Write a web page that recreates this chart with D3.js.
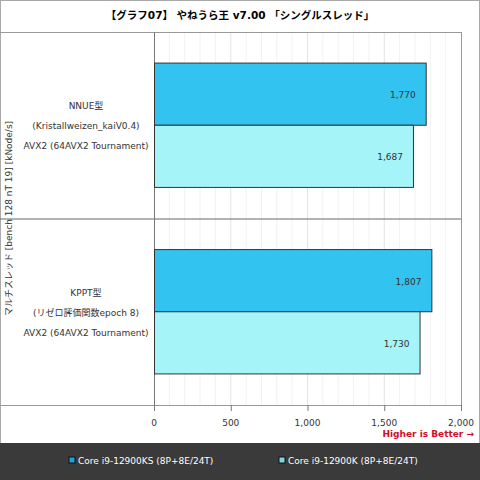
<!DOCTYPE html><html><head><meta charset="utf-8"><script src="https://cdn.jsdelivr.net/npm/d3@7"></script>
<style>body{margin:0;background:#fff}svg{font-family:"DejaVu Sans","Noto Sans CJK JP",sans-serif}</style></head><body><svg id="c" width="480" height="480"></svg><script>
const categories=[["NNUE型","(Kristallweizen_kaiV0.4)","AVX2 (64AVX2 Tournament)"],["KPPT型","(リゼロ評価関数epoch 8)","AVX2 (64AVX2 Tournament)"]];
const seriesNames=["Core i9-12900KS (8P+8E/24T)","Core i9-12900K (8P+8E/24T)"];
const values=[[1770,1807],[1687,1730]];
const ticks=[0,500,1000,1500,2000];
const colors=["#33c3f0","#a5f5f8"],legendColors=["#1fa3d6","#7fd9dc"];
const FS=9;
const svg=d3.select("#c");
svg.append("rect").attr("x",0.5).attr("y",0.5).attr("width",479).attr("height",479).attr("fill","#fff").attr("stroke","#aaa");
svg.append("text").attr("x",240).attr("y",19).attr("text-anchor","middle").attr("font-size",10.5).attr("font-weight","bold").text("【グラフ07】 やねうら王 v7.00 「シングルスレッド」");
const L=154,R=461,T=32,B=405;
const x=d3.scaleLinear().domain([0,2000]).range([L,R]);
const y0=d3.scaleBand().domain([0,1]).range([T,B]);
const y1=d3.scaleBand().domain([0,1]).range([0,y0.bandwidth()]).paddingOuter(0.5);
const g=svg.append("g");
g.selectAll(".gr").data(d3.range(100,2000,100)).join("line").attr("x1",d=>x(d)).attr("x2",d=>x(d)).attr("y1",T).attr("y2",B).attr("stroke",d=>d%500?"#f2f2f2":"#e4e4e4");
g.append("line").attr("x1",0).attr("x2",R).attr("y1",T+0.5).attr("y2",T+0.5).attr("stroke","#999");
g.append("line").attr("x1",0).attr("x2",R).attr("y1",B+0.5).attr("y2",B+0.5).attr("stroke","#999");
g.append("line").attr("x1",0).attr("x2",R).attr("y1",y0(1)+0.5).attr("y2",y0(1)+0.5).attr("stroke","#666");
g.append("line").attr("x1",L+0.5).attr("x2",L+0.5).attr("y1",T).attr("y2",B+6).attr("stroke","#777");
g.append("line").attr("x1",R+0.5).attr("x2",R+0.5).attr("y1",T).attr("y2",B+6).attr("stroke","#999");
categories.forEach((c,ci)=>{
 values.forEach((vs,si)=>{
  const yy=y0(ci)+y1(si);
  g.append("rect").attr("x",x(0)+0.5).attr("y",yy).attr("width",x(vs[ci])-x(0)).attr("height",y1.bandwidth()).attr("fill",colors[si]).attr("stroke","#333").attr("stroke-width",1);
  g.append("text").attr("x",x(vs[ci])-10).attr("y",yy+y1.bandwidth()/2+4).attr("text-anchor","end").attr("font-size",FS).attr("fill","#333").text(d3.format(",")(vs[ci]));
 });
 const cy=y0(ci)+y0.bandwidth()/2;
 c.forEach((t,i)=>g.append("text").attr("x",86).attr("y",cy+(i-1)*20+4).attr("text-anchor","middle").attr("font-size",FS).attr("fill","#333").text(t));
});
ticks.forEach(t=>{g.append("line").attr("x1",x(t)+0.5).attr("x2",x(t)+0.5).attr("y1",B).attr("y2",B+6).attr("stroke","#777");
 g.append("text").attr("x",x(t)).attr("y",B+21).attr("text-anchor","middle").attr("font-size",FS).attr("fill","#333").text(d3.format(",")(t));});
svg.append("text").attr("transform",`translate(12,${(T+B)/2}) rotate(-90)`).attr("text-anchor","middle").attr("font-size",FS).attr("fill","#333").text("マルチスレッド [bench 128 nT 19] [kNode/s]");
svg.append("text").attr("x",474).attr("y",437).attr("text-anchor","end").attr("font-size",FS).attr("font-weight","bold").attr("fill","#d0102a").text("Higher is Better →");
svg.append("rect").attr("x",0).attr("y",443).attr("width",480).attr("height",37).attr("fill","#3a3a3a");
const lx=[69,279];
seriesNames.forEach((n,i)=>{svg.append("rect").attr("x",lx[i]).attr("y",457).attr("width",6).attr("height",6).attr("fill",legendColors[i]).attr("stroke","#111");
 svg.append("text").attr("x",lx[i]+9).attr("y",464).attr("font-size",FS).attr("fill","#fff").text(n);});
</script></body></html>
